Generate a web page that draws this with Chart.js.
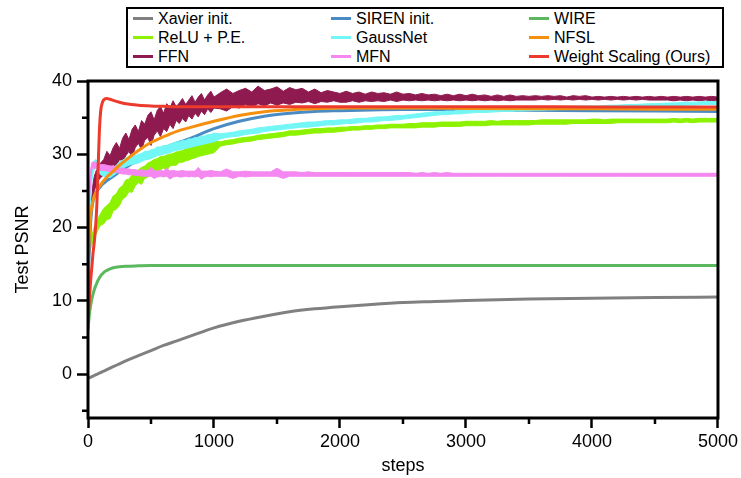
<!DOCTYPE html>
<html lang="en">
<head>
<meta charset="UTF-8">
<title>Test PSNR vs steps</title>
<script src="https://cdn.jsdelivr.net/npm/chart.js@4.4.1/dist/chart.umd.min.js"></script>
<style>
body {
    margin: 0;
    background: #fff;
    font-family: 'Liberation Sans', Arial, sans-serif;
}
.wrap {
    position: relative;
    width: 741px;
    height: 478px;
}
#legend {
    position: absolute;
    left: 126px;
    top: 7px;
    width: 589px;
    border: 2.5px solid #000;
    background: #fff;
    padding: 0 0 0 5px;
    display: grid;
    grid-template-columns: 198px 198px auto;
    grid-auto-rows: 19px;
    font-size: 16px;
    color: #000;
}
#legend .item {
    display: flex;
    align-items: center;
    white-space: nowrap;
}
#legend .mark {
    width: 20px;
    height: 3px;
    margin-right: 5px;
}
</style>
</head>
<body>
<div class="wrap">
    <canvas id="psnrChart" width="741" height="478"></canvas>
    <div id="legend"></div>
</div>
<script>
// legend order (row by row, as in the figure)
const seriesNames = ['Xavier init.', 'SIREN init.', 'WIRE', 'ReLU + P.E.', 'GaussNet', 'NFSL', 'FFN', 'MFN', 'Weight Scaling (Ours)'];
const seriesColors = ['#808080', '#4a8bc4', '#5cb85f', '#8cf200', '#72f6f6', '#f5900e', '#8f1a4f', '#f488f0', '#ec3a2c'];
// top-most first
const drawOrder = ['Weight Scaling (Ours)', 'NFSL', 'WIRE', 'MFN', 'GaussNet', 'SIREN init.', 'FFN', 'ReLU + P.E.', 'Xavier init.'];

const yTicks = [0, 10, 20, 30, 40];
const yMinorTicks = [-5, 5, 15, 25, 35];
const xTicks = [0, 1000, 2000, 3000, 4000, 5000];
const xMinorTicks = [500, 1500, 2500, 3500, 4500];

// smooth curves
const steps = [0, 10, 20, 30, 40, 50, 60, 70, 80, 90, 100,
    115, 130, 150, 175, 200,
    250, 300, 400, 500, 600, 700, 800,
    1000, 1200, 1400, 1600, 1800, 2000,
    2250, 2500, 2750, 3000,
    3500, 4000, 4500, 5000];

const xavier = [-0.6, -0.52, -0.44, -0.36, -0.28, -0.2, -0.12, -0.04, 0.04, 0.12, 0.2,
    0.32, 0.44, 0.6, 0.8, 1.0,
    1.4, 1.8, 2.5, 3.2, 3.9, 4.5, 5.1,
    6.3, 7.2, 7.9, 8.5, 8.9, 9.2,
    9.5, 9.75, 9.9, 10.05,
    10.25, 10.35, 10.45, 10.5];
const siren = [12, 17, 20.5, 22.5, 23.6, 24.2, 24.6, 24.9, 25.2, 25.4, 25.6,
    25.9, 26.1, 26.4, 26.7, 27.0,
    27.6, 28.2, 29.2, 30.0, 30.8, 31.5, 32.1,
    33.5, 34.5, 35.2, 35.6, 35.85, 35.95,
    36.05, 36.1, 36.1, 36.05,
    36.0, 35.95, 35.9, 35.85];
const wire = [6.0, 8.0, 9.3, 10.2, 10.9, 11.5, 12.0, 12.4, 12.8, 13.1, 13.4,
    13.7, 13.95, 14.15, 14.35, 14.5,
    14.65, 14.72, 14.77, 14.8, 14.8, 14.8, 14.8,
    14.8, 14.8, 14.8, 14.8, 14.8, 14.8,
    14.8, 14.8, 14.8, 14.8,
    14.8, 14.8, 14.8, 14.8];
const nfsl = [14, 19, 21.5, 22.9, 23.7, 24.3, 24.7, 25.0, 25.3, 25.6, 25.8,
    26.2, 26.5, 26.9, 27.3, 27.7,
    28.5, 29.2, 30.5, 31.6, 32.4, 33.1, 33.6,
    34.5, 35.3, 35.8, 36.05, 36.2, 36.3,
    36.3, 36.3, 36.3, 36.25,
    36.2, 36.2, 36.15, 36.15];
const weightScaling = [7, 10, 12.5, 14.5, 16.5, 18, 20, 23, 28, 33, 35.8,
    37.1, 37.5, 37.6, 37.5, 37.35,
    37.1, 36.9, 36.7, 36.6, 36.55, 36.5, 36.5,
    36.5, 36.5, 36.5, 36.5, 36.5, 36.5,
    36.5, 36.5, 36.5, 36.5,
    36.5, 36.45, 36.45, 36.45];

// noisy curves: upper / lower edge of the noise band
const noisySteps = [0, 10, 20, 30, 40, 50, 60, 70, 80, 90, 100,
    125, 150, 175, 200, 225, 250, 275, 300, 325, 350,
    375, 400, 425, 450, 475, 500, 525, 550, 575, 600,
    625, 650, 675, 700, 725, 750, 775, 800, 825, 850,
    875, 900, 925, 950, 975, 1000,
    1050, 1100, 1150, 1200, 1250, 1300, 1350, 1400, 1450, 1500,
    1550, 1600, 1650, 1700, 1750, 1800, 1850, 1900, 1950, 2000,
    2050, 2100, 2150, 2200, 2250, 2300, 2350, 2400, 2450, 2500,
    2550, 2600, 2650, 2700, 2750, 2800, 2850, 2900, 2950, 3000,
    3050, 3100, 3150, 3200, 3250, 3300, 3350, 3400, 3450, 3500,
    3550, 3600, 3650, 3700, 3750, 3800, 3850, 3900, 3950, 4000,
    4050, 4100, 4150, 4200, 4250, 4300, 4350, 4400, 4450, 4500,
    4550, 4600, 4650, 4700, 4750, 4800, 4850, 4900, 4950, 5000];

const ffnHi = [12.0, 17.0, 21.0, 24.0, 26.0, 27.0, 27.5, 28.0, 28.2, 28.5, 28.8,
    29.3, 30.4, 29.8, 30.9, 31.6, 30.8, 32.2, 32.9, 32.0, 33.4,
    34.0, 33.1, 34.6, 34.1, 35.3, 35.8, 34.7, 36.0, 36.5, 35.6,
    36.9, 36.3, 37.3, 36.5, 37.0, 37.6, 36.8, 37.4, 38.0, 37.1,
    37.8, 38.3, 37.4, 38.1, 38.6, 37.8,
    38.4, 38.9, 38.3, 38.7, 39.0, 38.5, 39.3, 38.7, 38.9, 39.2,
    38.6, 39.1, 38.8, 39.0, 38.5, 38.9, 38.4, 38.7, 38.5, 38.3,
    38.6, 38.3, 38.5, 38.2, 38.5, 38.3, 38.4, 38.2, 38.5, 38.2,
    38.3, 38.1, 38.3, 38.1, 38.2, 38.0, 38.2, 38.0, 38.2, 38.0,
    38.2, 38.0, 38.1, 37.9, 38.1, 37.9, 38.1, 37.9, 38.0, 37.9,
    38.0, 37.9, 38.0, 37.9, 38.0, 37.8, 38.0, 37.9, 38.0, 37.8,
    37.9, 37.8, 37.9, 37.8, 37.9, 37.8, 37.9, 37.8, 37.9, 37.8,
    37.9, 37.8, 37.9, 37.8, 37.9, 37.8, 37.9, 37.8, 37.9, 37.8];
const ffnLo = [11.0, 15.0, 19.0, 22.0, 24.0, 25.0, 25.5, 26.0, 26.4, 26.6, 26.8,
    27.2, 27.9, 27.5, 28.6, 28.2, 29.3, 29.0, 29.8, 30.4, 29.6,
    30.9, 31.5, 30.6, 31.9, 32.3, 31.2, 32.6, 33.2, 32.4, 33.5,
    33.1, 34.1, 33.5, 34.6, 34.2, 34.9, 34.4, 35.3, 34.8, 35.6,
    35.1, 35.9, 35.4, 36.2, 35.7, 36.3,
    36.2, 35.9, 36.5, 36.3, 36.8, 36.4, 36.9, 36.6, 37.0, 36.7,
    37.0, 36.8, 37.1, 37.0, 37.2, 36.9, 37.2, 37.1, 37.3, 37.1,
    37.1, 37.3, 37.1, 37.3, 37.2, 37.3, 37.2, 37.4, 37.2, 37.4,
    37.3, 37.4, 37.3, 37.4, 37.3, 37.4, 37.3, 37.4, 37.3, 37.4,
    37.3, 37.4, 37.3, 37.4, 37.3, 37.4, 37.3, 37.4, 37.4, 37.4,
    37.4, 37.5, 37.4, 37.5, 37.4, 37.5, 37.4, 37.5, 37.4, 37.5,
    37.4, 37.5, 37.4, 37.5, 37.4, 37.5, 37.4, 37.5, 37.4, 37.4,
    37.4, 37.4, 37.3, 37.4, 37.3, 37.4, 37.3, 37.4, 37.3, 37.4];

const reluPeHi = [17.0, 17.8, 18.4, 19.0, 19.5, 20.1, 20.4, 20.9, 21.2, 21.6, 21.9,
    22.6, 23.0, 23.4, 24.3, 24.6, 25.4, 25.7, 26.5, 26.6, 27.2,
    27.4, 27.9, 28.2, 28.4, 28.8, 29.0, 29.3, 29.4, 29.7, 29.7,
    29.9, 30.0, 30.1, 30.3, 30.4, 30.5, 30.8, 30.8, 31.0, 31.1,
    31.3, 31.4, 31.5, 31.6, 31.7, 31.8,
    31.7, 31.9, 32.0, 32.2, 32.3, 32.4, 32.6, 32.7, 32.8, 32.9,
    33.0, 33.2, 33.2, 33.3, 33.4, 33.5, 33.5, 33.6, 33.6, 33.7,
    33.7, 33.8, 33.8, 33.9, 33.9, 34.0, 34.0, 34.1, 34.1, 34.1,
    34.2, 34.2, 34.3, 34.3, 34.3, 34.4, 34.4, 34.4, 34.4, 34.5,
    34.5, 34.5, 34.5, 34.6, 34.5, 34.6, 34.6, 34.6, 34.6, 34.6,
    34.6, 34.7, 34.7, 34.7, 34.7, 34.7, 34.7, 34.7, 34.7, 34.8,
    34.8, 34.7, 34.8, 34.8, 34.8, 34.8, 34.8, 34.8, 34.8, 34.8,
    34.8, 34.8, 34.9, 34.8, 34.9, 34.8, 34.9, 34.9, 34.9, 34.9];
const reluPeLo = [15.5, 16.4, 17.0, 17.6, 18.0, 18.6, 19.0, 19.3, 19.7, 20.0, 20.3,
    20.5, 21.1, 21.2, 22.3, 22.5, 23.0, 23.9, 24.2, 24.9, 24.8,
    25.7, 26.1, 25.9, 26.7, 26.9, 27.3, 27.0, 27.8, 27.9, 28.1,
    27.8, 28.4, 28.5, 28.5, 28.9, 28.9, 29.1, 29.2, 29.4, 29.5,
    29.7, 29.8, 29.9, 30.0, 30.1, 30.2,
    31.1, 31.3, 31.4, 31.6, 31.7, 31.8, 32.0, 32.1, 32.2, 32.3,
    32.4, 32.6, 32.6, 32.7, 32.8, 32.9, 32.9, 33.0, 33.0, 33.1,
    33.2, 33.3, 33.3, 33.4, 33.4, 33.5, 33.5, 33.6, 33.6, 33.6,
    33.6, 33.6, 33.7, 33.7, 33.7, 33.8, 33.8, 33.8, 33.8, 33.9,
    33.9, 33.9, 33.9, 34.0, 34.0, 34.0, 34.0, 34.0, 34.0, 34.0,
    34.1, 34.1, 34.1, 34.1, 34.1, 34.1, 34.2, 34.2, 34.2, 34.2,
    34.2, 34.2, 34.2, 34.3, 34.3, 34.3, 34.3, 34.3, 34.3, 34.3,
    34.3, 34.3, 34.4, 34.3, 34.4, 34.3, 34.4, 34.4, 34.4, 34.4];

const gaussNetHi = [16.0, 22.0, 26.0, 28.0, 28.8, 29.1, 29.3, 29.1, 28.9, 28.6, 28.4,
    28.1, 27.9, 27.9, 28.2, 28.5, 29.0, 29.2, 29.5, 29.6, 29.8,
    29.8, 30.0, 30.1, 30.4, 30.4, 30.6, 30.7, 31.0, 31.0, 31.2,
    31.2, 31.4, 31.5, 31.7, 31.7, 31.9, 31.9, 32.1, 32.1, 32.3,
    32.3, 32.5, 32.5, 32.7, 32.7, 32.9,
    32.8, 32.9, 33.0, 33.2, 33.3, 33.4, 33.6, 33.7, 33.8, 33.9,
    34.0, 34.1, 34.2, 34.3, 34.4, 34.4, 34.5, 34.6, 34.6, 34.7,
    34.7, 34.8, 34.9, 34.9, 35.0, 35.1, 35.1, 35.2, 35.3, 35.3,
    35.4, 35.5, 35.6, 35.7, 35.8, 35.8, 35.9, 35.9, 36.0, 36.0,
    36.05, 36.1, 36.1, 36.15, 36.2, 36.2, 36.25, 36.3, 36.3, 36.35,
    36.4, 36.4, 36.45, 36.45, 36.5, 36.5, 36.55, 36.55, 36.6, 36.6,
    36.6, 36.65, 36.7, 36.7, 36.75, 36.8, 36.8, 36.85, 36.9, 36.9,
    36.95, 37.0, 37.0, 37.05, 37.1, 37.1, 37.15, 37.2, 37.2, 37.2];
const gaussNetLo = [14.0, 20.0, 24.0, 26.2, 27.4, 27.9, 28.1, 27.9, 27.7, 27.4, 27.2,
    27.0, 26.9, 26.8, 27.1, 27.4, 27.8, 28.1, 28.3, 28.5, 28.6,
    28.7, 28.8, 29.0, 29.2, 29.3, 29.4, 29.6, 29.8, 29.9, 30.0,
    30.1, 30.2, 30.4, 30.5, 30.6, 30.7, 30.8, 30.9, 31.0, 31.1,
    31.2, 31.3, 31.4, 31.5, 31.6, 31.7,
    32.1, 32.3, 32.4, 32.5, 32.7, 32.8, 32.9, 33.1, 33.2, 33.3,
    33.4, 33.5, 33.6, 33.7, 33.7, 33.8, 33.9, 34.0, 34.0, 34.1,
    34.2, 34.2, 34.3, 34.4, 34.4, 34.5, 34.6, 34.6, 34.7, 34.8,
    34.9, 35.0, 35.1, 35.2, 35.3, 35.4, 35.4, 35.5, 35.5, 35.6,
    35.65, 35.7, 35.7, 35.75, 35.8, 35.85, 35.85, 35.9, 35.9, 35.95,
    36.0, 36.0, 36.05, 36.05, 36.1, 36.1, 36.15, 36.15, 36.2, 36.2,
    36.2, 36.25, 36.3, 36.3, 36.35, 36.4, 36.4, 36.45, 36.5, 36.5,
    36.55, 36.6, 36.6, 36.65, 36.7, 36.7, 36.75, 36.8, 36.8, 36.8];

const mfnHi = [19.0, 25.0, 27.8, 28.8, 29.0, 28.9, 28.9, 28.8, 28.8, 28.7, 28.6,
    28.6, 28.5, 28.4, 28.4, 28.2, 28.1, 28.1, 28.0, 28.0, 27.9,
    27.9, 27.8, 27.9, 27.8, 27.8, 28.2, 27.8, 27.7, 27.8, 27.7,
    28.1, 27.7, 27.8, 27.7, 27.7, 27.8, 27.7, 27.7, 27.7, 27.7,
    28.2, 27.7, 27.7, 27.7, 27.8, 27.7,
    27.6, 28.0, 27.6, 27.6, 27.7, 27.6, 27.6, 27.6, 27.6, 28.1,
    27.6, 27.6, 27.6, 27.5, 27.6, 27.5, 27.5, 27.5, 27.5, 27.5,
    27.5, 27.5, 27.5, 27.5, 27.5, 27.5, 27.5, 27.5, 27.5, 27.5,
    27.5, 27.4, 27.5, 27.4, 27.5, 27.4, 27.5, 27.4, 27.4, 27.4,
    27.4, 27.4, 27.4, 27.4, 27.4, 27.4, 27.4, 27.4, 27.4, 27.4,
    27.4, 27.4, 27.4, 27.4, 27.4, 27.4, 27.4, 27.4, 27.4, 27.4,
    27.4, 27.4, 27.4, 27.4, 27.4, 27.4, 27.4, 27.4, 27.4, 27.4,
    27.4, 27.4, 27.4, 27.4, 27.4, 27.4, 27.4, 27.4, 27.4, 27.4];
const mfnLo = [17.0, 23.0, 26.2, 27.8, 28.2, 28.1, 28.1, 28.0, 28.0, 27.9, 27.8,
    27.8, 27.7, 27.6, 27.5, 27.5, 27.4, 27.3, 27.3, 27.2, 27.2,
    27.1, 27.1, 27.0, 27.0, 27.0, 27.0, 26.7, 26.9, 27.0, 26.9,
    27.0, 26.6, 26.9, 27.0, 26.9, 26.9, 27.0, 26.9, 27.0, 26.9,
    27.0, 26.6, 26.9, 27.0, 26.9, 27.0,
    27.0, 27.0, 26.7, 27.0, 26.9, 27.0, 27.0, 27.0, 27.0, 27.0,
    26.7, 27.0, 27.0, 27.0, 27.0, 27.0, 27.0, 27.0, 27.0, 27.0,
    27.0, 27.0, 27.0, 27.0, 27.0, 27.0, 27.0, 27.0, 27.0, 27.0,
    27.0, 27.0, 27.0, 27.0, 27.0, 27.0, 27.0, 27.0, 27.0, 27.0,
    27.0, 27.0, 27.0, 27.0, 27.0, 27.0, 27.0, 27.0, 27.0, 27.0,
    27.0, 27.0, 27.0, 27.0, 27.0, 27.0, 27.0, 27.0, 27.0, 27.0,
    27.0, 27.0, 27.0, 27.0, 27.0, 27.0, 27.0, 27.0, 27.0, 27.0,
    27.0, 27.0, 27.0, 27.0, 27.0, 27.0, 27.0, 27.0, 27.0, 27.0];

// [x values, y values] for lines, [x values, upper, lower] for noise bands
const seriesData = {
    'Xavier init.': [steps, xavier],
    'SIREN init.': [steps, siren],
    'WIRE': [steps, wire],
    'ReLU + P.E.': [noisySteps, reluPeHi, reluPeLo],
    'GaussNet': [noisySteps, gaussNetHi, gaussNetLo],
    'NFSL': [steps, nfsl],
    'FFN': [noisySteps, ffnHi, ffnLo],
    'MFN': [noisySteps, mfnHi, mfnLo],
    'Weight Scaling (Ours)': [steps, weightScaling]
};

// legend box (html, 3 columns)
const legendEl = document.getElementById('legend');
seriesNames.forEach((name, i) => {
    const item = document.createElement('div');
    item.className = 'item';
    const mark = document.createElement('span');
    mark.className = 'mark';
    mark.style.background = seriesColors[i];
    item.appendChild(mark);
    item.appendChild(document.createTextNode(name));
    legendEl.appendChild(item);
});

const datasets = [];
seriesNames.forEach((name, i) => {
    const [xs, ys, lows] = seriesData[name];
    const order = drawOrder.indexOf(name);
    const col = seriesColors[i];
    if (!lows) {
        datasets.push({
            label: name,
            data: xs.map((x, k) => ({x: x, y: ys[k]})),
            borderColor: col,
            borderWidth: 3,
            pointRadius: 0,
            fill: false,
            cubicInterpolationMode: 'monotone',
            order: order
        });
    } else {
        // upper edge, then lower edge filled up to it
        datasets.push({
            label: name,
            data: xs.map((x, k) => ({x: x, y: ys[k]})),
            borderColor: col,
            borderWidth: 1,
            pointRadius: 0,
            fill: false,
            tension: 0,
            order: order
        });
        datasets.push({
            label: name + ' (low)',
            data: xs.map((x, k) => ({x: x, y: lows[k]})),
            borderColor: col,
            backgroundColor: col,
            borderWidth: 1,
            pointRadius: 0,
            fill: '-1',
            tension: 0,
            order: order
        });
    }
});

// frame round the plot + minor ticks
const framePlugin = {
    id: 'frame',
    afterDraw(chart) {
        const {ctx, chartArea: a, scales: {x, y}} = chart;
        ctx.save();
        ctx.strokeStyle = '#000';
        ctx.lineWidth = 3;
        ctx.strokeRect(a.left, a.top, a.right - a.left, a.bottom - a.top);
        ctx.lineWidth = 2.5;
        ctx.beginPath();
        yMinorTicks.forEach(v => {
            const py = y.getPixelForValue(v);
            ctx.moveTo(a.left - 6, py);
            ctx.lineTo(a.left, py);
        });
        xMinorTicks.forEach(v => {
            const px = x.getPixelForValue(v);
            ctx.moveTo(px, a.bottom);
            ctx.lineTo(px, a.bottom + 6);
        });
        ctx.stroke();
        ctx.restore();
    }
};

Chart.defaults.font.family = "'Liberation Sans', Arial, sans-serif";
Chart.defaults.color = '#000';

const ctx = document.getElementById('psnrChart').getContext('2d');
const psnrChart = new Chart(ctx, {
    type: 'line',
    data: { datasets: datasets },
    options: {
        responsive: false,
        animation: false,
        devicePixelRatio: 1,
        layout: { padding: { top: 81, right: 21, left: 0, bottom: 0 } },
        plugins: {
            legend: { display: false },
            tooltip: { enabled: false },
            filler: { propagate: false }
        },
        scales: {
            x: {
                type: 'linear',
                min: 0,
                max: 5000,
                afterBuildTicks: scale => { scale.ticks = xTicks.map(v => ({value: v})); },
                afterFit: scale => { scale.height = 60; },
                ticks: {
                    autoSkip: false,
                    maxRotation: 0,
                    padding: 3,
                    font: { size: 18 },
                    callback: v => String(v)
                },
                grid: {
                    drawOnChartArea: false,
                    drawTicks: true,
                    tickLength: 10,
                    tickWidth: 2.5,
                    tickColor: '#000'
                },
                border: { display: false },
                title: {
                    display: true,
                    text: 'steps',
                    font: { size: 18, lineHeight: 1.2 },
                    padding: { top: 0, bottom: 1 }
                }
            },
            y: {
                min: -6,
                max: 40,
                afterBuildTicks: scale => { scale.ticks = yTicks.map(v => ({value: v})); },
                afterFit: scale => { scale.width = 88; },
                ticks: {
                    padding: 5,
                    font: { size: 18 },
                    callback: v => String(v)
                },
                grid: {
                    drawOnChartArea: false,
                    drawTicks: true,
                    tickLength: 11,
                    tickWidth: 2.5,
                    tickColor: '#000'
                },
                border: { display: false },
                title: {
                    display: true,
                    text: 'Test PSNR',
                    font: { size: 18, lineHeight: 1.2 },
                    padding: { top: 12, bottom: 0 }
                }
            }
        }
    },
    plugins: [framePlugin]
});
</script>
</body>
</html>
